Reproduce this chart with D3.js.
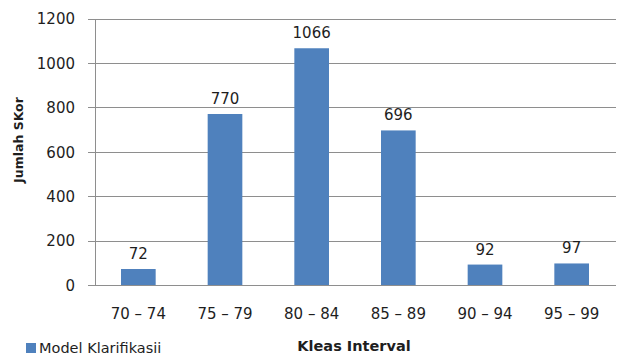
<!DOCTYPE html>
<html>
<head>
<meta charset="utf-8">
<script src="https://cdn.jsdelivr.net/npm/d3@7"></script>
<style>
  body { margin: 0; background: #fff; }
  svg text { font-family: "DejaVu Sans", sans-serif; fill: #1e1e1e; }
</style>
</head>
<body>
<svg id="chart" width="618" height="356"></svg>
<script>
// data
var categories = ["70 – 74", "75 – 79", "80 – 84", "85 – 89", "90 – 94", "95 – 99"];
var values = [72, 770, 1066, 696, 92, 97];
var yTicks = [0, 200, 400, 600, 800, 1000, 1200];
var seriesName = "Model Klarifikasii";
var xTitle = "Kleas Interval";
var yTitle = "Jumlah SKor";

var plotLeft = 95, plotRight = 615, plotTop = 18.5, plotBottom = 285;
var barColor = "#4f81bd", gridColor = "#8e8e8e";

var svg = d3.select("#chart");

var x = d3.scaleBand()
    .domain(categories)
    .range([plotLeft, plotRight])
    .paddingInner(0.6)
    .paddingOuter(0.3);

var y = d3.scaleLinear()
    .domain([0, 1200])
    .range([plotBottom, plotTop]);

// gridlines
svg.append("g")
    .attr("transform", "translate(" + plotLeft + ",0)")
    .call(d3.axisLeft(y).tickValues(yTicks).tickSize(-(plotRight - plotLeft + 1)).tickFormat(""))
    .call(function(g) {
        g.select(".domain").remove();
        g.selectAll("line").attr("stroke", gridColor).attr("shape-rendering", "crispEdges");
    });

// y axis
svg.append("g")
    .attr("transform", "translate(" + plotLeft + ",0)")
    .call(d3.axisLeft(y).tickValues(yTicks).tickFormat(d3.format("d"))
        .tickSize(7).tickPadding(13).tickSizeOuter(0))
    .call(function(g) {
        g.select(".domain").attr("stroke", gridColor).attr("shape-rendering", "crispEdges");
        g.selectAll("line").attr("stroke", gridColor).attr("shape-rendering", "crispEdges");
        g.selectAll("text").style("font-size", "15px").attr("dy", "0.36em");
    });

// bars
svg.append("g").selectAll("rect")
    .data(values)
    .join("rect")
    .attr("x", function(d, i) { return x(categories[i]); })
    .attr("y", function(d) { return y(d); })
    .attr("width", x.bandwidth())
    .attr("height", function(d) { return y(0) - y(d); })
    .attr("fill", barColor);

// value labels
svg.append("g").selectAll("text")
    .data(values)
    .join("text")
    .attr("x", function(d, i) { return x(categories[i]) + x.bandwidth() / 2; })
    .attr("y", function(d) { return y(d) - 10; })
    .attr("text-anchor", "middle")
    .style("font-size", "15px")
    .text(function(d) { return d; });

// x axis
svg.append("g")
    .attr("transform", "translate(0," + plotBottom + ")")
    .call(d3.axisBottom(x).tickSize(0).tickPadding(0).tickSizeOuter(0))
    .call(function(g) {
        g.select(".domain").attr("stroke", gridColor).attr("shape-rendering", "crispEdges");
        g.selectAll("text").style("font-size", "15px").attr("y", 34).attr("dy", 0);
    });

// axis titles
svg.append("text")
    .attr("transform", "translate(23,140) rotate(-90)")
    .attr("text-anchor", "middle")
    .style("font-size", "12.5px")
    .style("font-weight", "bold")
    .text(yTitle);

svg.append("text")
    .attr("x", 354)
    .attr("y", 351)
    .attr("text-anchor", "middle")
    .style("font-size", "14.5px")
    .style("font-weight", "bold")
    .text(xTitle);

// legend
var legend = svg.append("g").attr("transform", "translate(26,343)");
legend.append("rect")
    .attr("width", 10)
    .attr("height", 10)
    .attr("fill", barColor);
legend.append("text")
    .attr("x", 13)
    .attr("y", 9.5)
    .style("font-size", "14.5px")
    .text(seriesName);
</script>
</body>
</html>
